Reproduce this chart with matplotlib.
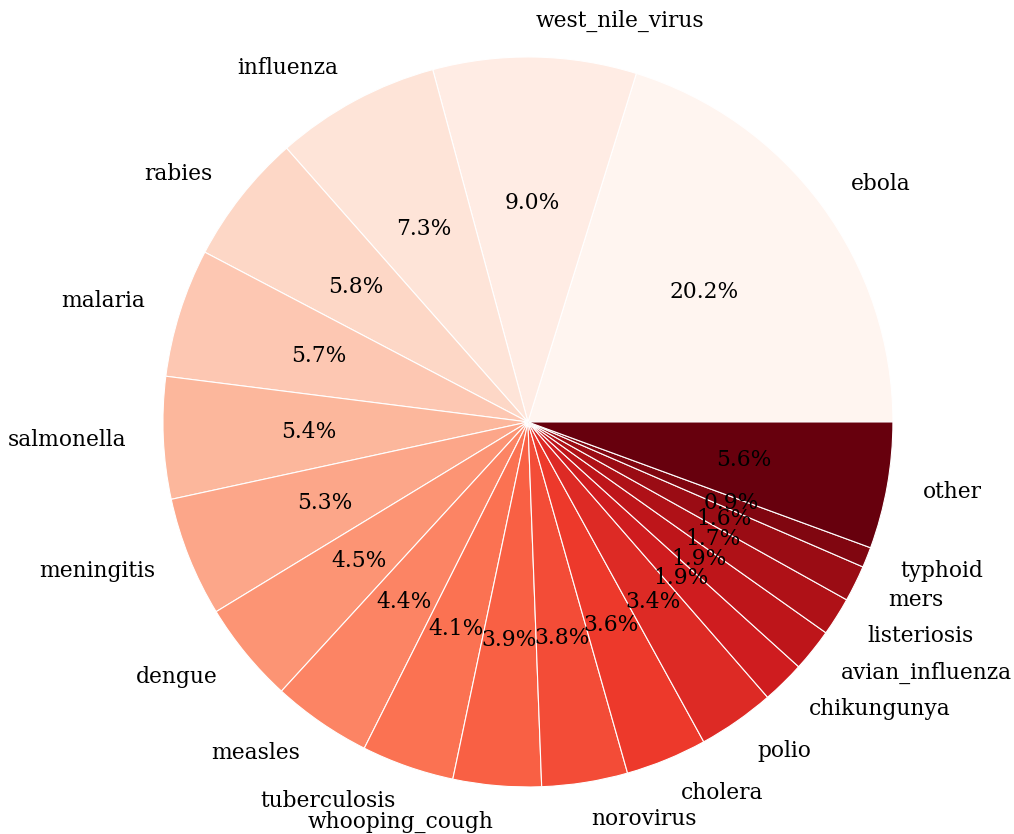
import numpy as np
import matplotlib
matplotlib.use("Agg")
import matplotlib.pyplot as plt

plt.rcParams['font.family'] = 'DejaVu Serif'

diseases = ["ebola", "west_nile_virus", "influenza", "rabies", "malaria",
            "salmonella", "meningitis", "dengue", "measles", "tuberculosis",
            "whooping_cough", "norovirus", "cholera", "polio", "chikungunya",
            "avian_influenza", "listeriosis", "mers", "typhoid", "other"]
shares = [20.2, 9.0, 7.3, 5.8, 5.7, 5.4, 5.3, 4.5, 4.4, 4.1,
          3.9, 3.8, 3.6, 3.4, 1.9, 1.9, 1.7, 1.6, 0.9, 5.6]

colors = plt.cm.Reds(np.linspace(0, 1, len(shares)))

fig = plt.figure(figsize=(10.14, 8.34), dpi=100)
ax = fig.add_axes([0.1607, 0.0564, 0.7199, 0.8753])
ax.pie(shares, labels=diseases, colors=colors, autopct='%1.1f%%',
       wedgeprops={'edgecolor': 'white', 'linewidth': 0.8},
       textprops={'fontsize': 15.7})
ax.set_xlim(-1, 1)
ax.set_ylim(-1, 1)
ax.set_aspect('equal')

plt.savefig("out.png", dpi=100)
